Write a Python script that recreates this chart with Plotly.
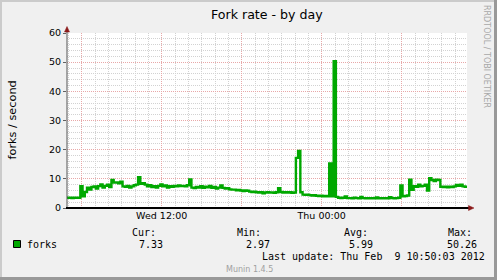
import plotly.graph_objects as go
import pandas as pd

# ---------------- data ----------------
title = "Fork rate - by day"
y_label = "forks / second"
series_name = "forks"
start_time = "2012-02-08 04:54"
end_time = "2012-02-09 10:54"
sample_step = "10min"

forks = [
    3.5, 3.5, 3.4, 3.5, 3.5, 3.5, 7.5, 4.0, 5.5, 7.0,
    6.3, 7.2, 7.4, 6.7, 7.5, 8.1, 7.0, 7.6, 8.0, 7.2,
    9.6, 8.7, 8.8, 8.5, 9.0, 7.4, 7.3, 7.6, 7.0, 7.4,
    7.8, 8.0, 10.6, 8.3, 8.5, 8.0, 7.4, 7.8, 7.2, 7.5,
    7.0, 7.6, 8.1, 7.4, 7.7, 7.0, 7.5, 7.3, 7.6, 7.4,
    7.7, 7.5, 7.6, 7.4, 7.8, 9.8, 7.0, 6.8, 7.2, 7.0,
    7.5, 6.9, 7.3, 7.1, 7.6, 6.9, 7.2, 6.7, 7.0, 7.7,
    6.9, 6.7, 6.8, 6.4, 6.3, 6.3, 6.1, 6.2, 6.0, 5.8,
    6.0, 5.9, 5.6, 5.5, 5.6, 5.4, 5.3, 5.4, 5.0, 5.3,
    5.4, 5.3, 5.3, 5.2, 5.4, 6.8, 5.5, 5.3, 5.4, 5.3,
    5.4, 5.2, 5.3, 17.2, 19.6, 5.4, 4.6, 4.5, 4.6, 4.4,
    4.3, 4.4, 4.2, 4.1, 4.2, 4.0, 4.1, 4.0, 15.3, 4.0,
    50.3, 3.8, 3.5, 3.4, 3.5, 4.0, 3.4, 3.4, 3.3, 3.5,
    3.4, 3.3, 3.8, 3.4, 3.3, 3.4, 3.3, 3.4, 3.3, 3.6,
    3.3, 3.4, 3.3, 3.4, 3.3, 3.7, 3.4, 3.3, 3.4, 3.5,
    7.7, 4.0, 4.1, 4.3, 9.7, 6.2, 7.5, 7.3, 8.0, 7.4,
    7.6, 8.0, 6.0, 10.2, 9.6, 9.2, 9.7, 9.6, 7.3, 7.2,
    7.3, 7.1, 7.3, 7.2, 7.4, 7.9, 7.6, 8.0, 7.4, 7.3,
    7.3,
]

x_tick_times = ["2012-02-08 06:00", "2012-02-08 12:00", "2012-02-08 18:00",
                "2012-02-09 00:00", "2012-02-09 06:00"]
x_tick_labels = ["", "Wed 12:00", "", "Thu 00:00", ""]
y_tick_values = [0, 10, 20, 30, 40, 50, 60]
y_tick_labels = ["0", "10", "20", "30", "40", "50", "60"]

stat_headers = ["Cur:", "Min:", "Avg:", "Max:"]
stat_values = ["7.33", "2.97", "5.99", "50.26"]
last_update = "Last update: Thu Feb  9 10:50:03 2012"
munin_version = "Munin 1.4.5"
rrd_credit = "RRDTOOL / TOBI OETIKER"

# ---------------- style ----------------
W_FIG, H_FIG = 497, 280
L, T, PW, PH = 67, 33, 400, 175
LINE_GREEN = "#00A800"
ARROW = "#8B1A1A"
MGRID = "#E8A8A8"
GRID = "#D2D2D2"
BACK = "#F0F0F0"
SANS = "DejaVu Sans"
MONO = "DejaVu Sans Mono"


def px(x):
    return (x - L) / PW


def py(y):
    return (T + PH - y) / PH


times = pd.date_range(start_time, periods=len(forks), freq=sample_step)

fig = go.Figure()
fig.add_trace(go.Scatter(
    x=times, y=forks, mode="lines", line_shape="hv",
    line=dict(color=LINE_GREEN, width=2.4), name=series_name,
    showlegend=False, hoverinfo="skip",
))

fig.update_layout(
    width=W_FIG, height=H_FIG,
    margin=dict(l=L, r=W_FIG - L - PW, t=T, b=H_FIG - T - PH),
    paper_bgcolor=BACK, plot_bgcolor="#FFFFFF",
    showlegend=False,
    font=dict(family=SANS, size=10, color="#000000"),
)

fig.update_xaxes(
    type="date", range=[start_time, end_time],
    tickmode="array", tickvals=x_tick_times, ticktext=x_tick_labels,
    ticks="", showgrid=True, gridcolor=MGRID, griddash="1px,1px", gridwidth=1,
    tickfont=dict(family=SANS, size=9.5, color="#000000"),
    zeroline=False, showline=False,
    minor=dict(dtick=3600000, tick0="2012-02-08 00:00", showgrid=True,
               gridcolor=GRID, griddash="1px,1px", gridwidth=1, ticks=""),
)
fig.update_yaxes(
    range=[0, 60], tickmode="array", tickvals=y_tick_values, ticktext=y_tick_labels,
    ticks="outside", ticklen=3, tickcolor="#606060",
    showgrid=True, gridcolor=MGRID, griddash="1px,1px", gridwidth=1,
    tickfont=dict(family=SANS, size=9.5, color="#000000"),
    zeroline=False, showline=False,
    minor=dict(dtick=2, showgrid=True, gridcolor=GRID, griddash="1px,1px",
               gridwidth=1, ticks=""),
)

shapes = []
# y axis line and x axis line
shapes.append(dict(type="line", xref="paper", yref="paper",
                   x0=px(67), x1=px(67), y0=py(208), y1=py(29),
                   line=dict(color="#555555", width=1)))
shapes.append(dict(type="line", xref="paper", yref="paper",
                   x0=px(66), x1=px(470), y0=py(208), y1=py(208),
                   line=dict(color="#000000", width=2)))
# arrows
shapes.append(dict(type="path", xref="paper", yref="paper",
                   path=f"M {px(64.5)} {py(32)} L {px(67)} {py(26.5)} L {px(69.5)} {py(32)} Z",
                   fillcolor=ARROW, line=dict(color=ARROW, width=0.5)))
shapes.append(dict(type="path", xref="paper", yref="paper",
                   path=f"M {px(468.5)} {py(205.5)} L {px(474)} {py(208)} L {px(468.5)} {py(210.5)} Z",
                   fillcolor=ARROW, line=dict(color=ARROW, width=0.5)))
# 3D frame shading
shapes.append(dict(type="rect", xref="paper", yref="paper",
                   x0=px(0), x1=px(2), y0=py(280), y1=py(0),
                   fillcolor="#CBCBCB", line=dict(width=0), layer="above"))
shapes.append(dict(type="rect", xref="paper", yref="paper",
                   x0=px(0), x1=px(497), y0=py(2), y1=py(0),
                   fillcolor="#CBCBCB", line=dict(width=0), layer="above"))
shapes.append(dict(type="rect", xref="paper", yref="paper",
                   x0=px(494), x1=px(497), y0=py(280), y1=py(0),
                   fillcolor="#999999", line=dict(width=0), layer="above"))
shapes.append(dict(type="rect", xref="paper", yref="paper",
                   x0=px(0), x1=px(497), y0=py(280), y1=py(277),
                   fillcolor="#999999", line=dict(width=0), layer="above"))
# legend swatch
shapes.append(dict(type="rect", xref="paper", yref="paper",
                   x0=px(13.5), x1=px(20.5), y0=py(247.5), y1=py(240.5),
                   fillcolor=LINE_GREEN, line=dict(color="#000000", width=1)))
fig.update_layout(shapes=shapes)

ann = []


def text(x, y, s, size, family=SANS, color="#000000", xanchor="left", angle=0):
    ann.append(dict(xref="paper", yref="paper", x=px(x), y=py(y), text=s,
                    showarrow=False, xanchor=xanchor, yanchor="middle",
                    textangle=angle, borderpad=0,
                    font=dict(family=family, size=size, color=color)))


text(267, 14, title, 12.6, xanchor="center")
text(11.5, 120, y_label, 11.3, xanchor="center", angle=-90)
text(487, 56, rrd_credit, 8, color="#A8A8A8", xanchor="center", angle=90)
text(26, 244, series_name, 10, family=MONO)
header_x = [130.5, 236, 342.5, 446.5]
value_x = [137.5, 244.5, 347.5, 446]
for hx, h in zip(header_x, stat_headers):
    text(hx, 232.3, h, 10, family=MONO)
for vx, v in zip(value_x, stat_values):
    text(vx, 244.3, v, 10, family=MONO)
text(261, 256.7, last_update.replace(" ", "&nbsp;"), 10, family=MONO)
text(249, 269.5, munin_version, 8, color="#A0A0A0", xanchor="center")
fig.update_layout(annotations=ann)

fig.write_html("out.html")
